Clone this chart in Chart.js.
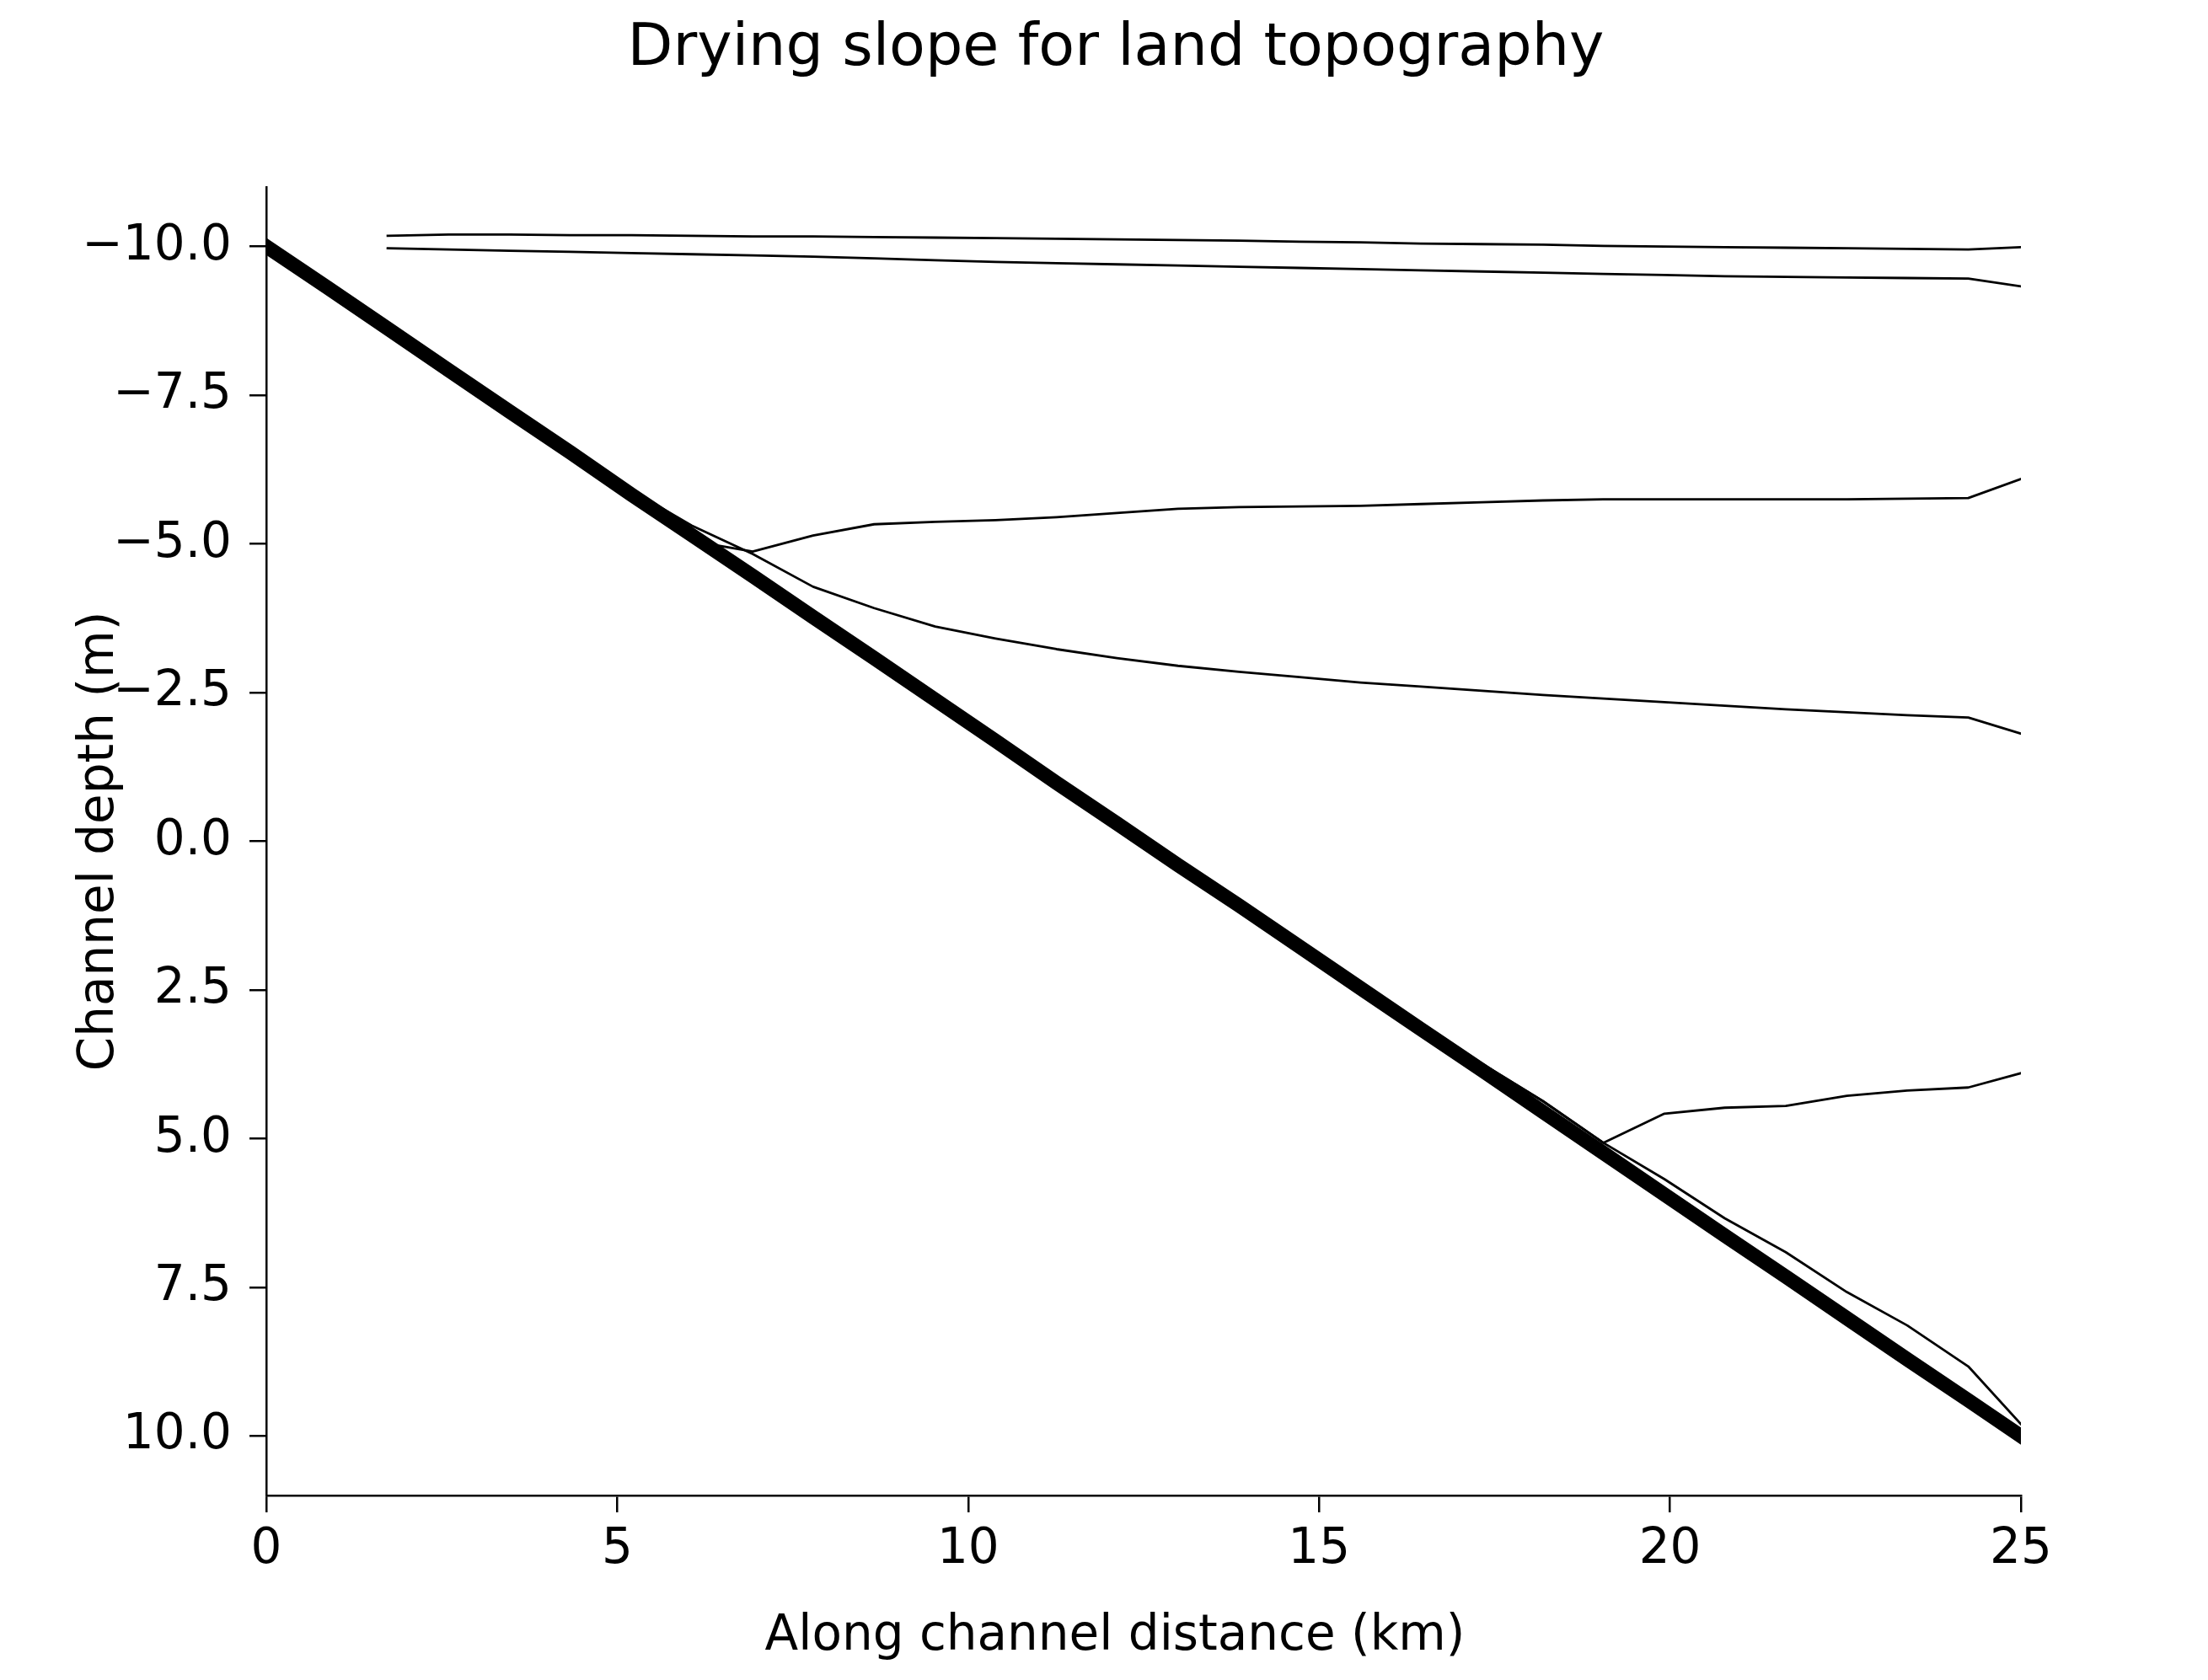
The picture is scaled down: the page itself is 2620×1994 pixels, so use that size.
<!DOCTYPE html>
<html>
<head>
<meta charset="utf-8">
<script src="https://cdn.jsdelivr.net/npm/chart.js@4.4.1/dist/chart.umd.min.js"></script>
<style>
    html, body { margin: 0; padding: 0; background: #fff; }
    canvas { display: block; }
</style>
</head>
<body>
<canvas id="dryingSlopeChart" width="2620" height="1994"></canvas>
<script>
// Along-channel positions of the model points (km)
const distanceKm = [0, 0.87, 1.73, 2.6, 3.46, 4.33, 5.2, 6.06, 6.93, 7.79, 8.66, 9.53, 10.39, 11.26, 12.12,
    12.99, 13.86, 14.72, 15.59, 16.45, 17.32, 18.19, 19.05, 19.92, 20.78, 21.65, 22.52, 23.38, 24.25, 25];

// Land topography (thick line)
const bedDepth = [-10.0, -9.31, -8.62, -7.92, -7.23, -6.54, -5.83, -5.15, -4.46, -3.77, -3.08, -2.38, -1.69, -0.98, -0.30,
    0.40, 1.08, 1.77, 2.47, 3.16, 3.85, 4.55, 5.24, 5.94, 6.63, 7.32, 8.02, 8.71, 9.40, 10.0];

// Water level snapshots (thin lines)
const levelA = [null, null, -10.18, -10.20, -10.20, -10.19, -10.19, -10.18, -10.17, -10.17, -10.16, -10.15, -10.14, -10.13, -10.12,
    -10.11, -10.10, -10.08, -10.07, -10.05, -10.04, -10.03, -10.01, -10.00, -9.99, -9.98, -9.97, -9.96, -9.95, -9.99];
const levelB = [null, null, -9.97, -9.95, -9.93, -9.91, -9.89, -9.87, -9.85, -9.83, -9.80, -9.77, -9.74, -9.72, -9.70,
    -9.68, -9.66, -9.64, -9.62, -9.60, -9.58, -9.56, -9.54, -9.52, -9.50, -9.49, -9.48, -9.47, -9.46, -9.33];
const levelC = [null, null, -8.62, -7.92, -7.23, -6.54, -5.83, -5.05, -4.87, -5.14, -5.33, -5.37, -5.40, -5.45, -5.52,
    -5.59, -5.62, -5.63, -5.64, -5.67, -5.70, -5.73, -5.75, -5.75, -5.75, -5.75, -5.75, -5.76, -5.77, -6.09];
const levelD = [null, null, -8.66, -7.97, -7.28, -6.59, -5.90, -5.31, -4.83, -4.28, -3.92, -3.61, -3.41, -3.23, -3.08,
    -2.95, -2.85, -2.76, -2.67, -2.60, -2.53, -2.46, -2.40, -2.34, -2.28, -2.22, -2.17, -2.12, -2.08, -1.81];
const levelE = [null, null, -8.66, -7.97, -7.28, -6.59, -5.89, -5.21, -4.52, -3.83, -3.14, -2.44, -1.75, -1.05, -0.36,
    0.33, 1.02, 1.70, 2.38, 3.05, 3.74, 4.37, 5.07, 4.58, 4.48, 4.45, 4.28, 4.19, 4.14, 3.90];
const levelF = [null, null, -8.66, -7.97, -7.28, -6.59, -5.89, -5.21, -4.52, -3.83, -3.14, -2.44, -1.75, -1.05, -0.36,
    0.33, 1.02, 1.70, 2.38, 3.05, 3.74, 4.37, 5.07, 5.68, 6.34, 6.91, 7.58, 8.14, 8.83, 9.80];

const xTicks = [0, 5, 10, 15, 20, 25];
const xTickLabels = ['0', '5', '10', '15', '20', '25'];
const yTicks = [-10, -7.5, -5, -2.5, 0, 2.5, 5, 7.5, 10];
const yTickLabels = ['\u221210.0', '\u22127.5', '\u22125.0', '\u22122.5', '0.0', '2.5', '5.0', '7.5', '10.0'];

const TITLE = 'Drying slope for land topography';
const X_LABEL = 'Along channel distance (km)';
const Y_LABEL = 'Channel depth (m)';

const FONT = '"DejaVu Sans", "Liberation Sans", sans-serif';
const INK = '#000000';

function toPoints(values) {
    return distanceKm
        .map((x, i) => ({ x, y: values[i] }))
        .filter(p => p.y !== null);
}

function lineSet(values, width) {
    return {
        data: toPoints(values),
        borderColor: INK,
        borderWidth: width,
        borderCapStyle: 'square',
        borderJoinStyle: 'round',
        pointRadius: 0,
        fill: false,
        tension: 0,
        clip: 0
    };
}

// suptitle / supxlabel are centred on the figure, not on the axes
const figureText = {
    id: 'figureText',
    afterDraw(chart) {
        const ctx = chart.ctx;
        ctx.save();
        ctx.fillStyle = INK;
        ctx.textAlign = 'center';
        ctx.textBaseline = 'alphabetic';
        ctx.font = `70px ${FONT}`;
        ctx.fillText(TITLE, 1324, 77);
        ctx.font = `58px ${FONT}`;
        ctx.fillText(X_LABEL, 1323, 1958);
        ctx.restore();
    }
};

const axisGrid = {
    drawOnChartArea: false,
    drawTicks: true,
    tickLength: 20,
    tickWidth: 2.5,
    tickColor: INK,
    color: INK,
    lineWidth: 2.5
};

new Chart(document.getElementById('dryingSlopeChart'), {
    type: 'line',
    data: {
        datasets: [
            lineSet(levelA, 2.8),
            lineSet(levelB, 2.8),
            lineSet(levelC, 2.8),
            lineSet(levelD, 2.8),
            lineSet(levelE, 2.8),
            lineSet(levelF, 2.8),
            lineSet(bedDepth, 17)
        ]
    },
    options: {
        responsive: false,
        animation: false,
        devicePixelRatio: 1,
        layout: { padding: { top: 222, right: 222, bottom: 0, left: 0 } },
        plugins: {
            legend: { display: false },
            tooltip: { enabled: false },
            title: { display: false }
        },
        scales: {
            x: {
                type: 'linear',
                position: 'bottom',
                min: 0,
                max: 25,
                afterBuildTicks: (axis) => { axis.ticks = xTicks.map(v => ({ value: v })); },
                afterFit: (axis) => { axis.height = 219; },
                ticks: {
                    color: INK,
                    padding: 10,
                    maxRotation: 0,
                    font: { family: FONT, size: 58 },
                    callback: (value) => xTickLabels[xTicks.indexOf(value)]
                },
                grid: axisGrid,
                border: { display: true, color: INK, width: 2.5 }
            },
            y: {
                type: 'linear',
                min: -11,
                max: 11,
                reverse: true,
                afterBuildTicks: (axis) => { axis.ticks = yTicks.map(v => ({ value: v })); },
                afterFit: (axis) => { axis.width = 316; },
                ticks: {
                    color: INK,
                    padding: 21,
                    font: { family: FONT, size: 58 },
                    callback: (value) => yTickLabels[yTicks.indexOf(value)]
                },
                grid: axisGrid,
                border: { display: true, color: INK, width: 2.5 },
                title: {
                    display: true,
                    text: Y_LABEL,
                    color: INK,
                    font: { family: FONT, size: 58 },
                    padding: { top: 84, bottom: 0 }
                }
            }
        }
    },
    plugins: [figureText]
});
</script>
</body>
</html>
